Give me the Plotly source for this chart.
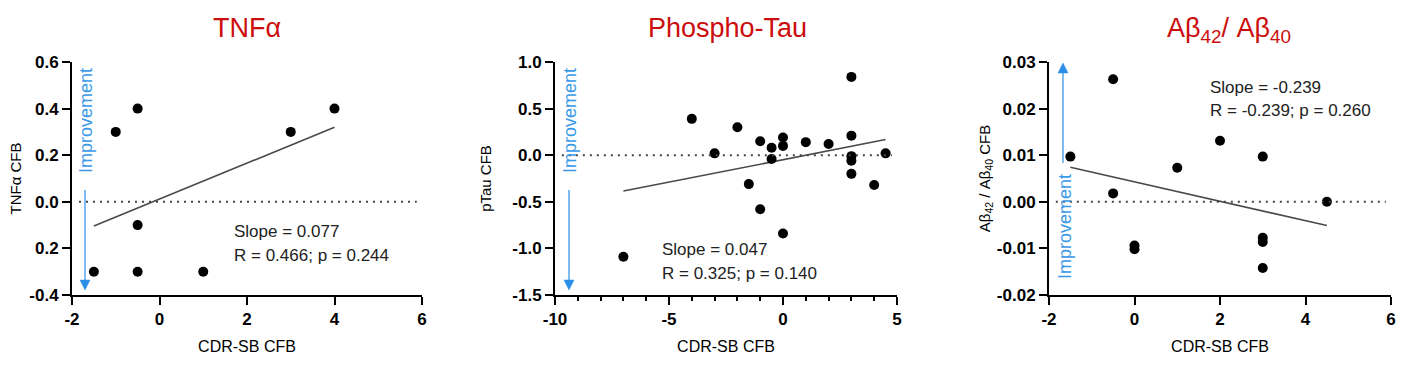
import plotly.graph_objects as go

W, H = 1408, 369

# ---------------- data ----------------
tnf_x = [-1.5, -1.0, -0.5, -0.5, -0.5, 1.0, 3.0, 4.0]
tnf_y = [-0.30, 0.30, 0.40, -0.10, -0.30, -0.30, 0.30, 0.40]
tnf_fit_x = [-1.5, 4.0]
tnf_fit_y = [-0.104, 0.320]

tau_x = [-7, -4, -3, -2, -1.5, -1, -1, -0.5, -0.5, 0, 0, 0, 1, 2, 3, 3, 3, 3, 3, 4, 4.5]
tau_y = [-1.09, 0.39, 0.02, 0.30, -0.31, 0.15, -0.58, 0.08, -0.04, 0.19, 0.10, -0.84,
         0.14, 0.12, 0.84, 0.21, -0.01, -0.06, -0.20, -0.32, 0.02]
tau_fit_x = [-7.0, 4.5]
tau_fit_y = [-0.385, 0.168]

ab_x = [-1.5, -0.5, -0.5, 0, 0, 1, 2, 3, 3, 3, 3, 4.5]
ab_y = [0.0097, 0.0263, 0.0018, -0.0094, -0.0102, 0.0073, 0.0131, 0.0097,
        -0.0077, -0.0086, -0.0142, 0.0]
ab_fit_x = [-1.5, 4.5]
ab_fit_y = [0.0074, -0.0051]

tnf_yticks = [-0.4, -0.2, 0.0, 0.2, 0.4, 0.6]
tnf_yticktext = ["-0.4", "0.2", "0.0", "0.2", "0.4", "0.6"]
tau_yticks = [-1.5, -1.0, -0.5, 0.0, 0.5, 1.0]
tau_yticktext = ["-1.5", "-1.0", "-0.5", "0.0", "0.5", "1.0"]
ab_yticks = [-0.02, -0.01, 0.0, 0.01, 0.02, 0.03]
ab_yticktext = ["-0.02", "-0.01", "0.00", "0.01", "0.02", "0.03"]

x13_ticks = [-2, 0, 2, 4, 6]
x13_ticktext = ["-2", "0", "2", "4", "6"]
x2_ticks = [-10, -5, 0, 5]
x2_ticktext = ["-10", "-5", "0", "5"]

titles = ["TNFα", "Phospho-Tau", "Aβ<sub>42</sub>/ Aβ<sub>40</sub>"]
ytitles = ["TNFα CFB", "pTau CFB", "Aβ<sub>42</sub> / Aβ<sub>40</sub> CFB"]
xtitle = "CDR-SB CFB"
stats = [["Slope = 0.077", "R = 0.466; p = 0.244"],
         ["Slope = 0.047", "R = 0.325; p = 0.140"],
         ["Slope = -0.239", "R = -0.239; p = 0.260"]]

# ---------------- layout helpers ----------------
def px(x):
    return x / W

def py(y):
    return 1 - y / H

def bold(lst):
    return ["<b>%s</b>" % s for s in lst]

RED = "#cc0d0d"
BLUE_TXT = "#3a9ae8"
BLUE_ARW = "#2a8ee6"
FONT = "Arial"

fig = go.Figure()

panels = [
    (tnf_x, tnf_y, tnf_fit_x, tnf_fit_y, "x", "y"),
    (tau_x, tau_y, tau_fit_x, tau_fit_y, "x2", "y2"),
    (ab_x, ab_y, ab_fit_x, ab_fit_y, "x3", "y3"),
]
for xs, ys, fx, fy, xa, ya in panels:
    fig.add_trace(go.Scatter(x=fx, y=fy, mode="lines", xaxis=xa, yaxis=ya,
                             line=dict(color="#4a4a4a", width=1.6),
                             showlegend=False, hoverinfo="skip"))
    fig.add_trace(go.Scatter(x=xs, y=ys, mode="markers", xaxis=xa, yaxis=ya,
                             marker=dict(color="black", size=10),
                             cliponaxis=False, showlegend=False))

xdoms = [(72, 422), (555, 897), (1049, 1391)]
ydom = [py(295), py(62)]

axis_common = dict(showline=True, linecolor="black", linewidth=2,
                   ticks="outside", ticklen=8, tickwidth=2, tickcolor="black",
                   showgrid=False, zeroline=False, automargin=False,
                   tickfont=dict(family=FONT, size=17, color="black"))

xranges = [[-2, 6], [-10, 5], [-2, 6]]
xts = [(x13_ticks, x13_ticktext), (x2_ticks, x2_ticktext), (x13_ticks, x13_ticktext)]
yranges = [[-0.4, 0.6], [-1.5, 1.0], [-0.02, 0.03]]
yts = [(tnf_yticks, tnf_yticktext), (tau_yticks, tau_yticktext), (ab_yticks, ab_yticktext)]
ystandoff = [4, 17, 3]

names = ["", "2", "3"]
for i, n in enumerate(names):
    xa = dict(axis_common, domain=[px(xdoms[i][0]), px(xdoms[i][1])],
              range=xranges[i], tickvals=xts[i][0], ticktext=bold(xts[i][1]),
              anchor="y" + n,
              title=dict(text=xtitle, standoff=12,
                         font=dict(family=FONT, size=16, color="black")))
    if i == 1:
        xa["minor"] = dict(dtick=1, ticks="outside", ticklen=4, tickwidth=2,
                           tickcolor="black", showgrid=False)
    ya = dict(axis_common, domain=ydom, range=yranges[i],
              tickvals=yts[i][0], ticktext=bold(yts[i][1]), anchor="x" + n,
              title=dict(text=ytitles[i], standoff=ystandoff[i],
                         font=dict(family=FONT, size=15, color="black")))
    fig.layout["xaxis" + n] = xa
    fig.layout["yaxis" + n] = ya
    fig.add_shape(type="line", xref="x" + n + " domain", yref="y" + n,
                  x0=0.02, x1=0.985, y0=0, y1=0,
                  line=dict(color="#444444", width=2, dash="2px,5px"))

ann = []
for (cx, cy), t in zip([(247, 28), (727, 28), (1229, 30)], titles):
    ann.append(dict(x=px(cx), y=py(cy), xref="paper", yref="paper", text=t,
                    showarrow=False, xanchor="center", yanchor="middle",
                    font=dict(family=FONT, size=27, color=RED)))
for (lx, ly), st in zip([(232, 231), (660, 249), (1208, 87)], stats):
    for k, line in enumerate(st):
        ann.append(dict(x=px(lx), y=py(ly + 24 * k), xref="paper", yref="paper",
                        text=line, showarrow=False, xanchor="left", yanchor="middle",
                        font=dict(family=FONT, size=17, color="#222222")))
for cx, cy in [(86, 121), (570, 121), (1065, 227)]:
    ann.append(dict(x=px(cx), y=py(cy), xref="paper", yref="paper", text="Improvement",
                    showarrow=False, textangle=-90, xanchor="center", yanchor="middle",
                    font=dict(family=FONT, size=18, color=BLUE_TXT)))

# improvement arrows as shapes (shaft + triangular head)
for hx, hy, tail_y in [(85, 290, 190), (569, 290, 190), (1063, 63, 163)]:
    d = 1 if tail_y < hy else -1
    base_y = hy - d * 10
    fig.add_shape(type="line", xref="paper", yref="paper",
                  x0=px(hx), x1=px(hx), y0=py(tail_y), y1=py(base_y),
                  line=dict(color=BLUE_TXT, width=1.3))
    path = "M %f %f L %f %f L %f %f Z" % (px(hx - 5), py(base_y), px(hx + 5), py(base_y),
                                          px(hx), py(hy))
    fig.add_shape(type="path", xref="paper", yref="paper", path=path,
                  fillcolor=BLUE_ARW, line=dict(color=BLUE_ARW, width=0.5))

fig.update_layout(width=W, height=H, margin=dict(l=0, r=0, t=0, b=0),
                  paper_bgcolor="white", plot_bgcolor="white",
                  annotations=ann, showlegend=False,
                  font=dict(family=FONT))

fig.write_html("out.html")
